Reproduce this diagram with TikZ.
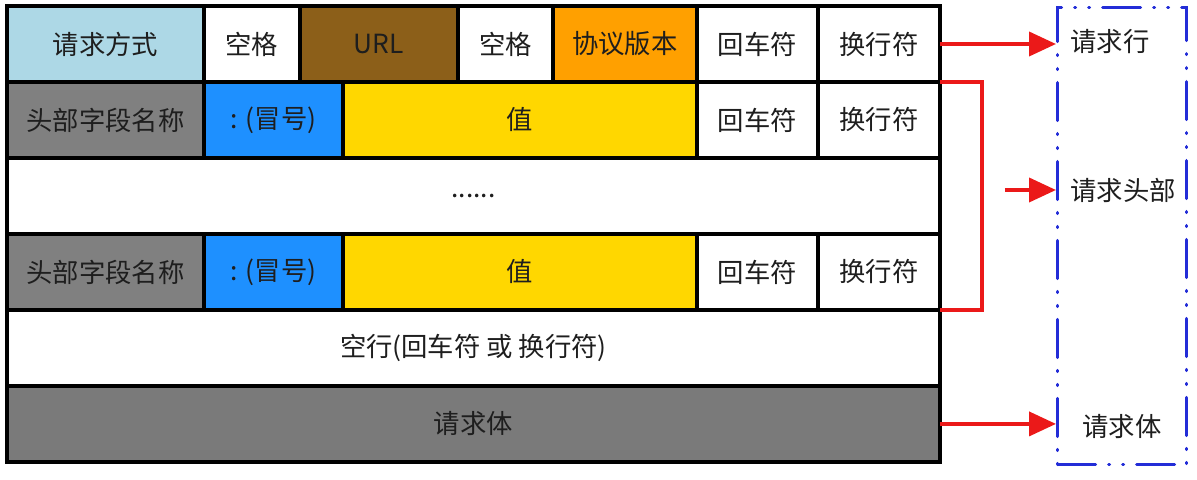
\documentclass[tikz,border=0pt]{standalone}
\usepackage{fontspec}
\newfontfamily\cjkfont{Noto Sans CJK SC}
\usetikzlibrary{arrows.meta,positioning,calc}
\definecolor{methodblue}{RGB}{173,216,230}
\definecolor{urlbrown}{RGB}{140,95,25}
\definecolor{verorange}{RGB}{255,160,0}
\definecolor{colonblue}{RGB}{30,144,255}
\definecolor{valyellow}{RGB}{255,215,0}
\definecolor{namegray}{RGB}{128,128,128}
\definecolor{bodygray}{RGB}{122,122,122}
\definecolor{txtgray}{RGB}{30,30,30}
\definecolor{partblue}{RGB}{35,45,215}
\definecolor{arrred}{RGB}{235,25,25}

\begin{document}
\begin{tikzpicture}[x=0.02cm,y=-0.02cm]

  \tikzstyle{every node}=[font=\cjkfont\fontsize{15}{18}\selectfont, text=txtgray]

  \tikzset{cell/.style={draw=black, line width=2pt, minimum height=1.52cm,
      inner sep=0pt, outer sep=0pt},
    redptr/.style={arrred, line width=2.2pt,
      -{Triangle[length=0.54cm,width=0.48cm]}}}

  \useasboundingbox (0,0) rectangle (1197,480);

  % Request line
  \node[cell, fill=methodblue, minimum width=3.94cm, anchor=north west] (method) at (7,6) {请求方式};
  \node[cell, fill=white, minimum width=1.92cm, right=0pt of method] (space1) {空格};
  \node[cell, fill=urlbrown, minimum width=3.16cm, right=0pt of space1] (url) {URL};
  \node[cell, fill=white, minimum width=1.90cm, right=0pt of url] (space2) {空格};
  \node[cell, fill=verorange, minimum width=2.88cm, right=0pt of space2] (version) {协议版本};
  \node[cell, fill=white, minimum width=2.42cm, right=0pt of version] (cr1) {回车符};
  \node[cell, fill=white, minimum width=2.44cm, right=0pt of cr1] (lf1) {换行符};

  % First header field
  \node[cell, fill=namegray, minimum width=3.94cm, below=0pt of method.south west, anchor=north west] (name1) {头部字段名称};
  \node[cell, fill=colonblue, minimum width=2.78cm, right=0pt of name1] (colon1) {: (冒号)};
  \node[cell, fill=valyellow, minimum width=7.08cm, right=0pt of colon1] (value1) {值};
  \node[cell, fill=white, minimum width=2.42cm, right=0pt of value1] (cr2) {回车符};
  \node[cell, fill=white, minimum width=2.44cm, right=0pt of cr2] (lf2) {换行符};

  % More header fields
  \node[cell, fill=white, minimum width=18.66cm, below=0pt of name1.south west, anchor=north west] (dots) {......};

  % Last header field
  \node[cell, fill=namegray, minimum width=3.94cm, below=0pt of dots.south west, anchor=north west] (name2) {头部字段名称};
  \node[cell, fill=colonblue, minimum width=2.78cm, right=0pt of name2] (colon2) {: (冒号)};
  \node[cell, fill=valyellow, minimum width=7.08cm, right=0pt of colon2] (value2) {值};
  \node[cell, fill=white, minimum width=2.42cm, right=0pt of value2] (cr3) {回车符};
  \node[cell, fill=white, minimum width=2.44cm, right=0pt of cr3] (lf3) {换行符};

  % Blank line and body
  \node[cell, fill=white, minimum width=18.66cm, below=0pt of name2.south west, anchor=north west] (blank) {空行(回车符 或 换行符)};
  \node[cell, fill=bodygray, minimum width=18.66cm, below=0pt of blank.south west, anchor=north west] (body) {请求体};

  % Parts of the request
  \node[draw=partblue, line width=1.8pt, line cap=round,
    dash pattern=on 0.76cm off 0.26cm on 0.02cm off 0.26cm on 0.02cm off 0.26cm,
    minimum width=2.58cm, minimum height=9.14cm, inner sep=0pt, anchor=north west] (parts) at (1056,6) {};
  \node (reqline) at (1110,42) {请求行};
  \node (reqhead) at (1123,190) {请求头部};
  \node (reqbody) at (1122,427) {请求体};

  % Arrows
  \draw[redptr] (lf1.east) -- (lf1.east -| parts.west);
  \coordinate (bracket) at ($(lf1.south east) + (42,0)$);
  \draw[arrred, line width=2.2pt] (lf1.south east) -- (bracket) |- (lf3.south east);
  \coordinate (head from) at ($(bracket) + (23,108)$);
  \draw[redptr] (head from) -- (head from -| parts.west);
  \draw[redptr] (body.east) -- (body.east -| parts.west);

\end{tikzpicture}
\end{document}
